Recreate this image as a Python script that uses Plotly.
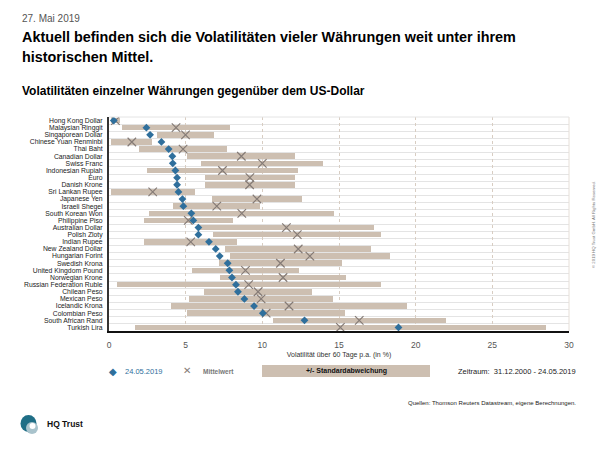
import plotly.graph_objects as go

currencies = ["Hong Kong Dollar", "Malaysian Ringgit", "Singaporean Dollar", "Chinese Yuan Renminbi",
              "Thai Baht", "Canadian Dollar", "Swiss Franc", "Indonesian Rupiah", "Euro", "Danish Krone",
              "Sri Lankan Rupee", "Japanese Yen", "Israeli Shegel", "South Korean Won", "Philippine Piso",
              "Australian Dollar", "Polish Zloty", "Indian Rupee", "New Zealand Dollar", "Hungarian Forint",
              "Swedish Krona", "United Kingdom Pound", "Norwegian Krone", "Russian Federation Ruble",
              "Chilean Peso", "Mexican Peso", "Icelandic Krona", "Colombian Peso", "South African Rand",
              "Turkish Lira"]
current = [0.31, 2.44, 2.68, 3.42, 3.89, 4.13, 4.16, 4.33, 4.44, 4.44,
           4.53, 4.79, 4.85, 5.37, 5.50, 5.83, 5.83, 6.52, 6.96, 7.22,
           7.74, 7.85, 8.02, 8.28, 8.41, 8.83, 9.46, 10.03, 12.75, 18.88]
mean = [0.42, 4.37, 4.99, 1.49, 4.83, 8.63, 10.00, 7.40, 9.19, 9.17,
        2.85, 9.65, 7.03, 8.66, 5.17, 11.57, 12.28, 5.33, 12.34, 13.10,
        11.18, 8.90, 11.35, 9.11, 9.72, 9.92, 11.74, 10.25, 16.32, 15.09]
std = [0.27, 3.50, 1.84, 1.34, 2.89, 3.53, 3.98, 4.95, 2.93, 2.93,
       2.74, 2.95, 2.85, 6.02, 2.89, 5.71, 5.49, 3.05, 4.75, 5.20,
       4.02, 3.46, 4.08, 8.61, 3.52, 4.70, 7.72, 5.17, 5.63, 13.39]
x_ticks = [0, 5, 10, 15, 20, 25, 30]

idx = list(range(len(currencies)))
lower = [m - s for m, s in zip(mean, std)]
width = [2 * s for s in std]

BAR = "#cdbfb1"
BLUE = "#2f6f9c"
GREYX = "#857b76"
SANS = "Liberation Sans, Arial, sans-serif"

W, H = 600, 450
L, R, T, B = 109, 31, 117, 119
PW, PH = W - L - R, H - T - B


def px(x):
    return (x - L) / PW


def py(y):
    return (H - B - y) / PH


fig = go.Figure()
fig.add_trace(go.Bar(y=idx, x=width, base=lower, orientation="h", width=0.78,
                     marker=dict(color=BAR, line=dict(width=0)), showlegend=False))
fig.add_trace(go.Scatter(y=idx, x=mean, mode="markers", showlegend=False,
                         marker=dict(symbol="x-thin", size=8.5, line=dict(width=1.2, color=GREYX))))
fig.add_trace(go.Scatter(y=idx, x=current, mode="markers", showlegend=False,
                         marker=dict(symbol="diamond", size=6, color=BLUE)))

fig.update_xaxes(range=[0, 30], tickvals=x_ticks, showgrid=True, gridcolor="#d8cdc2", griddash="dot",
                 gridwidth=1, zeroline=False, showline=True, linecolor="#111", linewidth=2, ticks="",
                 ticklabelstandoff=5,
                 tickfont=dict(family=SANS, size=8.5, color="#555"),
                 title=dict(text="Volatilität über 60 Tage p.a. (in %)", standoff=3,
                            font=dict(family=SANS, size=7, color="#333")))
fig.update_yaxes(range=[29.5, -0.5], tickmode="array", tickvals=idx, ticktext=currencies, showgrid=False,
                 zeroline=False, showline=True, linecolor="#333", linewidth=2, ticks="",
                 ticklabelstandoff=3,
                 tickfont=dict(family=SANS, size=6.8, color="#222"),
                 minor=dict(tickmode="linear", tick0=0.5, dtick=1, showgrid=True, gridcolor="#e4e4e4",
                            gridwidth=1, ticks=""))

shapes = [
    dict(type="line", xref="paper", yref="paper", x0=1, x1=1, y0=0, y1=1, line=dict(color="#e6dfd8", width=1)),
    dict(type="line", xref="paper", yref="paper", x0=0, x1=1, y0=1, y1=1, line=dict(color="#e4e4e4", width=1)),
    dict(type="rect", xref="paper", yref="paper", x0=px(262), x1=px(430), y0=py(377), y1=py(365),
         fillcolor=BAR, line=dict(width=0)),
    dict(type="circle", xref="paper", yref="paper", x0=px(20.5), x1=px(36.5), y0=py(432), y1=py(415),
         fillcolor="#1f6e86", line=dict(width=0)),
    dict(type="circle", xref="paper", yref="paper", x0=px(26), x1=px(38), y0=py(434), y1=py(422),
         fillcolor="#a9c3cc", line=dict(width=0)),
    dict(type="circle", xref="paper", yref="paper", x0=px(29.5), x1=px(35.5), y0=py(429), y1=py(423),
         fillcolor="white", line=dict(width=0)),
]

ann = []


def text(x, y, s, size, color="#000", family=SANS, xanchor="left", bold=False, angle=0):
    if bold:
        s = "<b>" + s + "</b>"
    ann.append(dict(x=px(x), y=py(y), xref="paper", yref="paper", text=s, showarrow=False,
                    xanchor=xanchor, yanchor="middle", font=dict(size=size, color=color, family=family),
                    textangle=angle))


text(20, 18, "27. Mai 2019", 10, "#555")
text(20, 37, "Aktuell befinden sich die Volatilitäten vieler Währungen weit unter ihrem", 14.4, bold=True)
text(20, 57, "historischen Mittel.", 14.4, bold=True)
text(20, 91, "Volatilitäten einzelner Währungen gegenüber dem US-Dollar", 12, bold=True)
text(113, 371, "◆", 10, BLUE, family="DejaVu Sans", xanchor="center")
text(123, 371, "24.05.2019", 7.5, BLUE)
text(187, 370, "✕", 10, GREYX, family="DejaVu Sans", xanchor="center")
text(201, 371, "Mittelwert", 6.5, "#777", bold=True)
text(346, 371, "+/- Standardabweichung", 7, "#111", xanchor="center", bold=True)
text(578, 371, "Zeitraum:  31.12.2000 - 24.05.2019", 7.5, "#222", xanchor="right")
text(578, 403, "Quellen: Thomson Reuters Datastream, eigene Berechnungen.", 6, "#222", xanchor="right")
text(45, 424, "HQ Trust", 8.5, "#111", bold=True)
ann.append(dict(x=px(593), y=py(225), xref="paper", yref="paper", text="© 2019 HQ Trust GmbH. All Rights Reserved.",
                showarrow=False, textangle=-90, xanchor="center", yanchor="middle",
                font=dict(size=4.3, color="#777", family=SANS)))

fig.update_layout(width=W, height=H, margin=dict(l=L, r=R, t=T, b=B), plot_bgcolor="white",
                  paper_bgcolor="white", bargap=0, shapes=shapes, annotations=ann, showlegend=False)

fig.write_html("out.html", config={"displayModeBar": False},
               post_script="document.body.style.margin='0px';")
